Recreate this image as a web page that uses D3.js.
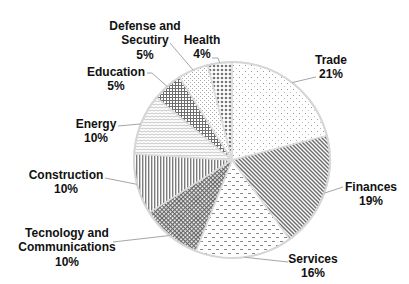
<!DOCTYPE html>
<html>
<head>
<meta charset="utf-8">
<script src="https://cdn.jsdelivr.net/npm/d3@7"></script>
<style>
  body { margin: 0; background: #fff; }
  text { font-family: "Liberation Sans", Arial, sans-serif; font-weight: bold; font-size: 12px; fill: #111; }
</style>
</head>
<body>
<svg id="chart" width="409" height="284"></svg>
<script>
// data
const sectors = ["Trade", "Finances", "Services", "Tecnology and Communications", "Construction", "Energy", "Education", "Defense and Secutiry", "Health"]
const shares = [21, 19, 16, 10, 10, 10, 5, 5, 4]
const labelLines = [
  ["Trade"], ["Finances"], ["Services"], ["Tecnology and", "Communications"],
  ["Construction"], ["Energy"], ["Education"], ["Defense and", "Secutiry"], ["Health"]
]
const patternIds = ["pTrade", "pFin", "pServ", "pTech", "pCons", "pEnergy", "pEdu", "pDef", "pHealth"]

// label placement (layout only)
const labelPos = [
  { x: 331, y: 59, end: [316, 77] },
  { x: 371, y: 186, end: [343, 187] },
  { x: 313, y: 258, end: [288, 262] },
  { x: 67, y: 232, end: [113, 242] },
  { x: 66, y: 174, end: [105, 178] },
  { x: 96, y: 123, end: [118, 126] },
  { x: 116, y: 71, end: [147, 73], elbow: [152, 73] },
  { x: 145, y: 25, end: [170, 43] },
  { x: 202, y: 39, end: [212, 58], elbow: [218, 58] }
]

const svg = d3.select("#chart")
const cx = 232, cy = 160, r = 98
const defs = svg.append("defs")

function pat(id, w, h, draw, transform) {
  let p = defs.append("pattern").attr("id", id)
    .attr("patternUnits", "userSpaceOnUse").attr("width", w).attr("height", h)
  if (transform) p.attr("patternTransform", transform)
  p.append("rect").attr("width", w).attr("height", h).attr("fill", "#fff")
  draw(p)
}

// trade: sparse dots
pat("pTrade", 6, 6, p => {
  p.append("rect").attr("x", 1).attr("y", 1).attr("width", 1).attr("height", 1).attr("fill", "#999")
  p.append("rect").attr("x", 4).attr("y", 4).attr("width", 1).attr("height", 1).attr("fill", "#bbb")
})
// finances: diagonal lines
pat("pFin", 4, 4, p => {
  p.append("path").attr("d", "M0,0 L4,4 M-1,3 L1,5 M3,-1 L5,1")
    .attr("stroke", "#6f6f6f").attr("stroke-width", 1.5)
})
// services: short dashes
pat("pServ", 8, 8, p => {
  p.append("rect").attr("x", 0).attr("y", 1).attr("width", 3).attr("height", 1).attr("fill", "#888")
  p.append("rect").attr("x", 4).attr("y", 5).attr("width", 3).attr("height", 1).attr("fill", "#888")
})
// technology: diamond lattice
pat("pTech", 3, 3, p => {
  p.append("path").attr("d", "M0,0.6 H3 M0.6,0 V3")
    .attr("stroke", "#666").attr("stroke-width", 1.2)
}, "rotate(45)")
// construction: vertical lines
pat("pCons", 3, 3, p => {
  p.append("rect").attr("x", 0).attr("y", 0).attr("width", 1.4).attr("height", 3).attr("fill", "#7d7d7d")
})
// energy: light dashed rows
pat("pEnergy", 4, 3, p => {
  p.append("path").attr("d", "M0,1 L2,2 L4,1")
    .attr("stroke", "#bdbdbd").attr("stroke-width", 0.9).attr("fill", "none")
})
// education: grid
pat("pEdu", 3, 3, p => {
  p.append("path").attr("d", "M0,0.5 H3 M0.5,0 V3")
    .attr("stroke", "#6e6e6e").attr("stroke-width", 1)
})
// defense: fine dots
pat("pDef", 4, 4, p => {
  p.append("rect").attr("x", 0).attr("y", 0).attr("width", 1).attr("height", 1).attr("fill", "#aaa")
  p.append("rect").attr("x", 2).attr("y", 2).attr("width", 1).attr("height", 1).attr("fill", "#aaa")
})
// health: big dots
pat("pHealth", 4, 4, p => {
  p.append("circle").attr("cx", 2).attr("cy", 2).attr("r", 1.3).attr("fill", "#777")
})

const pie = d3.pie().sort(null).value(d => d)
const arcs = pie(shares)
const arc = d3.arc().innerRadius(0).outerRadius(r)

const g = svg.append("g").attr("transform", `translate(${cx},${cy})`)

g.selectAll("path.slice")
  .data(arcs)
  .join("path")
  .attr("class", "slice")
  .attr("d", arc)
  .attr("fill", (d, i) => `url(#${patternIds[i]})`)
  .attr("stroke", "#dcdcdc")
  .attr("stroke-width", 1.5)

g.append("circle").attr("r", r).attr("fill", "none")
  .attr("stroke", "#d6d6d6").attr("stroke-width", 2)

// leader lines
arcs.forEach((d, i) => {
  let a = (d.startAngle + d.endAngle) / 2
  let sx = cx + r * Math.sin(a), sy = cy - r * Math.cos(a)
  let lp = labelPos[i]
  let pts = [[sx, sy]]
  if (lp.elbow) pts.push(lp.elbow)
  pts.push(lp.end)
  svg.append("path")
    .attr("d", d3.line()(pts))
    .attr("fill", "none")
    .attr("stroke", "#a6a6a6")
    .attr("stroke-width", 1)
})

// labels
arcs.forEach((d, i) => {
  let lp = labelPos[i]
  let lines = labelLines[i].concat([shares[i] + "%"])
  let t = svg.append("text").attr("text-anchor", "middle")
  lines.forEach((s, k) => {
    t.append("tspan").attr("x", lp.x).attr("y", lp.y + 4.5 + k * 14.5).text(s)
  })
})
</script>
</body>
</html>
